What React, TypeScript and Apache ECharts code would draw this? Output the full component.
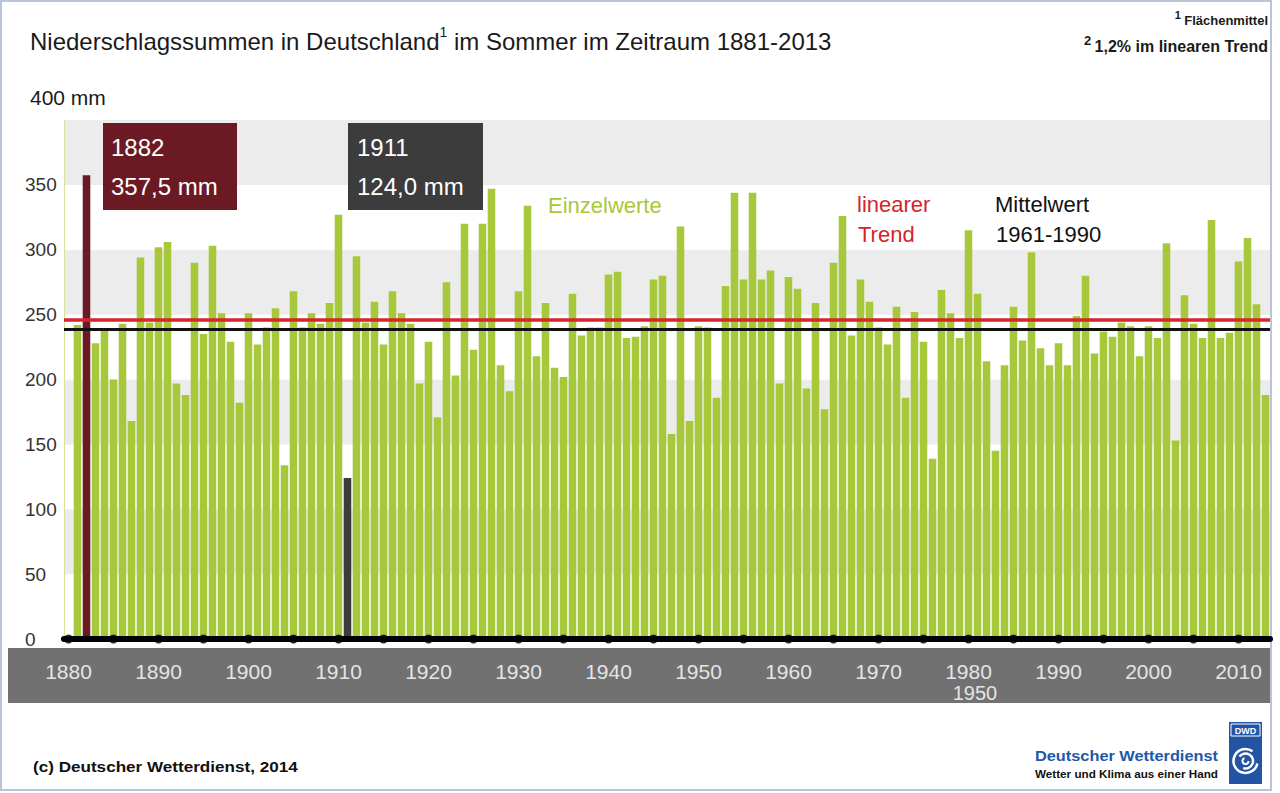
import React, { useEffect, useRef } from "react";
import * as echarts from "echarts";

// Summer precipitation totals (mm), Germany, 1881-2013
const startYear = 1881;
const precipitation: number[] = [
  242, 357.5, 228, 238, 200, 243, 168, 294, 244, 302,
  306, 197, 188, 290, 235, 303, 251, 229, 182, 251,
  227, 240, 255, 134, 268, 240, 251, 243, 259, 327,
  124.0, 295, 244, 260, 227, 268, 251, 243, 197, 229,
  171, 275, 203, 320, 223, 320, 347, 211, 191, 268,
  334, 218, 259, 209, 202, 266, 234, 240, 240, 281,
  283, 232, 233, 241, 277, 280, 158, 318, 168, 241,
  240, 186, 272, 344, 277, 344, 277, 284, 197, 279,
  270, 193, 259, 177, 290, 326, 234, 277, 260, 240,
  227, 256, 186, 252, 229, 139, 269, 251, 232, 315,
  266, 214, 145, 211, 256, 230, 298, 224, 211, 228,
  211, 249, 280, 220, 237, 233, 244, 241, 218, 241,
  232, 305, 153, 265, 243, 232, 323, 232, 236, 291,
  309, 258, 188,
];
// one empty category before the first year (left padding like the original)
const categories: string[] = ["1880"].concat(
  precipitation.map((_, i) => String(startYear + i))
);
const wettestYear = "1882";
const driestYear = "1911";
const trendValue = 246; // linear trend line
const meanValue = 239; // Mittelwert 1961-1990
const yMin = 0;
const yMax = 400;
const yStep = 50;

const F = "'Liberation Sans', Arial, Helvetica, sans-serif";
const GREEN = "#a8c83b";
const MAROON = "#6b1a24";
const DARK = "#3c3c3c";
const RED = "#d5252d";

const fmtMM = (v: number) => v.toFixed(1).replace(".", ",") + " mm";
const valueOf = (year: string) => precipitation[Number(year) - startYear];

export default function App() {
  const ref = useRef<HTMLDivElement>(null);
  useEffect(() => {
    if (!ref.current) return;
    const chart = echarts.init(ref.current, undefined, { renderer: "svg" });

    const barData = categories.map((c, i) => {
      if (i === 0) return null;
      const v = precipitation[i - 1];
      let color = GREEN;
      if (c === wettestYear) color = MAROON;
      if (c === driestYear) color = DARK;
      return { value: v, itemStyle: { color } };
    });
    const dots = categories
      .filter((c) => Number(c) % 5 === 0)
      .map((c) => [c, 0]);

    const txt = (x: number, y: number, text: string, extra: any = {}, scaleX = 1) => ({
      type: "text",
      x,
      y,
      z: 50,
      scaleX,
      style: {
        text,
        fontFamily: F,
        fontSize: 22,
        fill: "#1a1a1a",
        align: "left",
        verticalAlign: "middle",
        ...extra,
      },
    });

    const option: any = {
      animation: false,
      backgroundColor: "#ffffff",
      grid: { left: 64, right: 10, top: 120, bottom: 154, containLabel: false },
      xAxis: {
        type: "category",
        data: categories,
        boundaryGap: true,
        z: 5,
        axisLine: { show: true, lineStyle: { color: "#000", width: 6 } },
        axisTick: { show: false },
        splitLine: { show: false },
        axisLabel: {
          interval: (_i: number, v: string) => Number(v) % 10 === 0,
          color: "#e4e4e4",
          fontSize: 21,
          fontFamily: F,
          margin: 22,
        },
      },
      yAxis: {
        type: "value",
        min: yMin,
        max: yMax,
        interval: yStep,
        axisLine: { show: true, lineStyle: { color: "#d3e39a", width: 1 } },
        axisTick: { show: false },
        splitLine: { show: false },
        splitArea: { show: true, areaStyle: { color: ["#ffffff", "#ececec"] } },
        axisLabel: {
          formatter: (v: number) => (v === yMax ? "" : String(v)),
          align: "left",
          margin: 39,
          fontSize: 19,
          fontFamily: F,
          color: "#333",
          padding: [0, 0, 7, 0],
        },
      },
      series: [
        {
          type: "bar",
          data: barData,
          barCategoryGap: "16%",
          z: 2,
          markLine: {
            silent: true,
            symbol: "none",
            label: { show: false },
            data: [
              { yAxis: meanValue, lineStyle: { color: "#111", width: 3, type: "solid" } },
              { yAxis: trendValue, lineStyle: { color: RED, width: 3.5, type: "solid" } },
            ],
          },
        },
        {
          type: "scatter",
          data: dots,
          symbol: "circle",
          symbolSize: 9,
          itemStyle: { color: "#000" },
          z: 6,
          silent: true,
        },
      ],
      graphic: [
        // outer frame
        {
          type: "rect",
          z: 1,
          shape: { x: 1, y: 1, width: 1270, height: 789 },
          style: { fill: "none", stroke: "#b9c3da", lineWidth: 2 },
        },
        // grey x-axis band
        {
          type: "rect",
          z: -1,
          shape: { x: 8, y: 648, width: 1262, height: 55 },
          style: { fill: "#717171" },
        },
        // title
        {
          type: "text",
          x: 30,
          y: 25,
          z: 50,
          style: {
            text: "{a|Niederschlagssummen in Deutschland}{s|1}{a| im Sommer im Zeitraum 1881-2013}",
            fontFamily: F,
            rich: {
              a: { fontSize: 24, fontFamily: F, fill: "#1a1a1a", lineHeight: 28, verticalAlign: "bottom" },
              s: { fontSize: 14, fontFamily: F, fill: "#1a1a1a", lineHeight: 28, verticalAlign: "top" },
            },
          },
        },
        // footnotes (top right)
        {
          type: "text",
          x: 1268,
          y: 9,
          z: 50,
          style: {
            text: "{s|1} {a|Flächenmittel}",
            align: "right",
            fontFamily: F,
            rich: {
              a: { fontSize: 13, fontWeight: "bold", fontFamily: F, fill: "#1a1a1a", lineHeight: 18, verticalAlign: "bottom" },
              s: { fontSize: 11, fontWeight: "bold", fontFamily: F, fill: "#1a1a1a", lineHeight: 18, verticalAlign: "top" },
            },
          },
        },
        {
          type: "text",
          x: 1268,
          y: 34,
          z: 50,
          style: {
            text: "{s|2} {a|1,2% im linearen Trend}",
            align: "right",
            fontFamily: F,
            rich: {
              a: { fontSize: 16, fontWeight: "bold", fontFamily: F, fill: "#1a1a1a", lineHeight: 20, verticalAlign: "bottom" },
              s: { fontSize: 13, fontWeight: "bold", fontFamily: F, fill: "#1a1a1a", lineHeight: 20, verticalAlign: "top" },
            },
          },
        },
        txt(30, 97, "400 mm", { fontSize: 21 }),
        // annotation boxes
        {
          type: "rect",
          z: 40,
          shape: { x: 103, y: 123, width: 134, height: 87 },
          style: { fill: MAROON },
        },
        txt(111, 147, wettestYear, { fill: "#fff", fontSize: 24 }),
        txt(111, 186, fmtMM(valueOf(wettestYear)), { fill: "#fff", fontSize: 24 }),
        {
          type: "rect",
          z: 40,
          shape: { x: 348, y: 123, width: 135, height: 87 },
          style: { fill: DARK },
        },
        txt(357, 147, driestYear, { fill: "#fff", fontSize: 24 }),
        txt(357, 186, fmtMM(valueOf(driestYear)), { fill: "#fff", fontSize: 24 }),
        // legends in plot
        txt(548, 205, "Einzelwerte", { fill: GREEN, fontSize: 22 }),
        txt(857, 204, "linearer", { fill: RED, fontSize: 22 }),
        txt(858, 234, "Trend", { fill: RED, fontSize: 22 }),
        txt(995, 204, "Mittelwert", { fill: "#111", fontSize: 22 }),
        txt(996, 234, "1961-1990", { fill: "#111", fontSize: 22 }),
        // stray label under 1980
        txt(975, 693, "1950", { fill: "#e4e4e4", fontSize: 20, align: "center" }),
        // footer
        txt(33, 766, "(c) Deutscher Wetterdienst, 2014", { fontSize: 15, fontWeight: "bold", fill: "#111" }, 1.14),
        txt(1218, 756, "Deutscher Wetterdienst", { fontSize: 15, fontWeight: "bold", fill: "#2158a8", align: "right" }, 1.09),
        txt(1218, 774, "Wetter und Klima aus einer Hand", { fontSize: 10, fontWeight: "bold", fill: "#111", align: "right" }, 1.17),
        // DWD logo
        {
          type: "rect",
          z: 50,
          shape: { x: 1229, y: 722, width: 33, height: 62 },
          style: { fill: "#2353a3" },
        },
        {
          type: "rect",
          z: 51,
          shape: { x: 1231, y: 724, width: 29, height: 12 },
          style: { fill: "none", stroke: "#ffffff", lineWidth: 1 },
        },
        txt(1245.5, 730.5, "DWD", { fontSize: 9, fontWeight: "bold", fill: "#ffffff", align: "center" }),
        {
          type: "arc",
          z: 52,
          shape: { cx: 1245.5, cy: 761, r: 12, startAngle: 0.2, endAngle: Math.PI * 1.7 },
          style: { stroke: "#ffffff", lineWidth: 2.5, fill: "none" },
        },
        {
          type: "arc",
          z: 52,
          shape: { cx: 1245.5, cy: 761, r: 7.5, startAngle: Math.PI * 1.2, endAngle: Math.PI * 2.6 },
          style: { stroke: "#ffffff", lineWidth: 2.5, fill: "none" },
        },
        {
          type: "arc",
          z: 52,
          shape: { cx: 1245.5, cy: 761, r: 3, startAngle: 0, endAngle: Math.PI * 1.4 },
          style: { stroke: "#ffffff", lineWidth: 2, fill: "none" },
        },
      ],
    };

    chart.setOption(option);
    return () => chart.dispose();
  }, []);

  return (
    <div
      ref={ref}
      style={{ position: "absolute", left: 0, top: 0, width: 1280, height: 793 }}
    />
  );
}
